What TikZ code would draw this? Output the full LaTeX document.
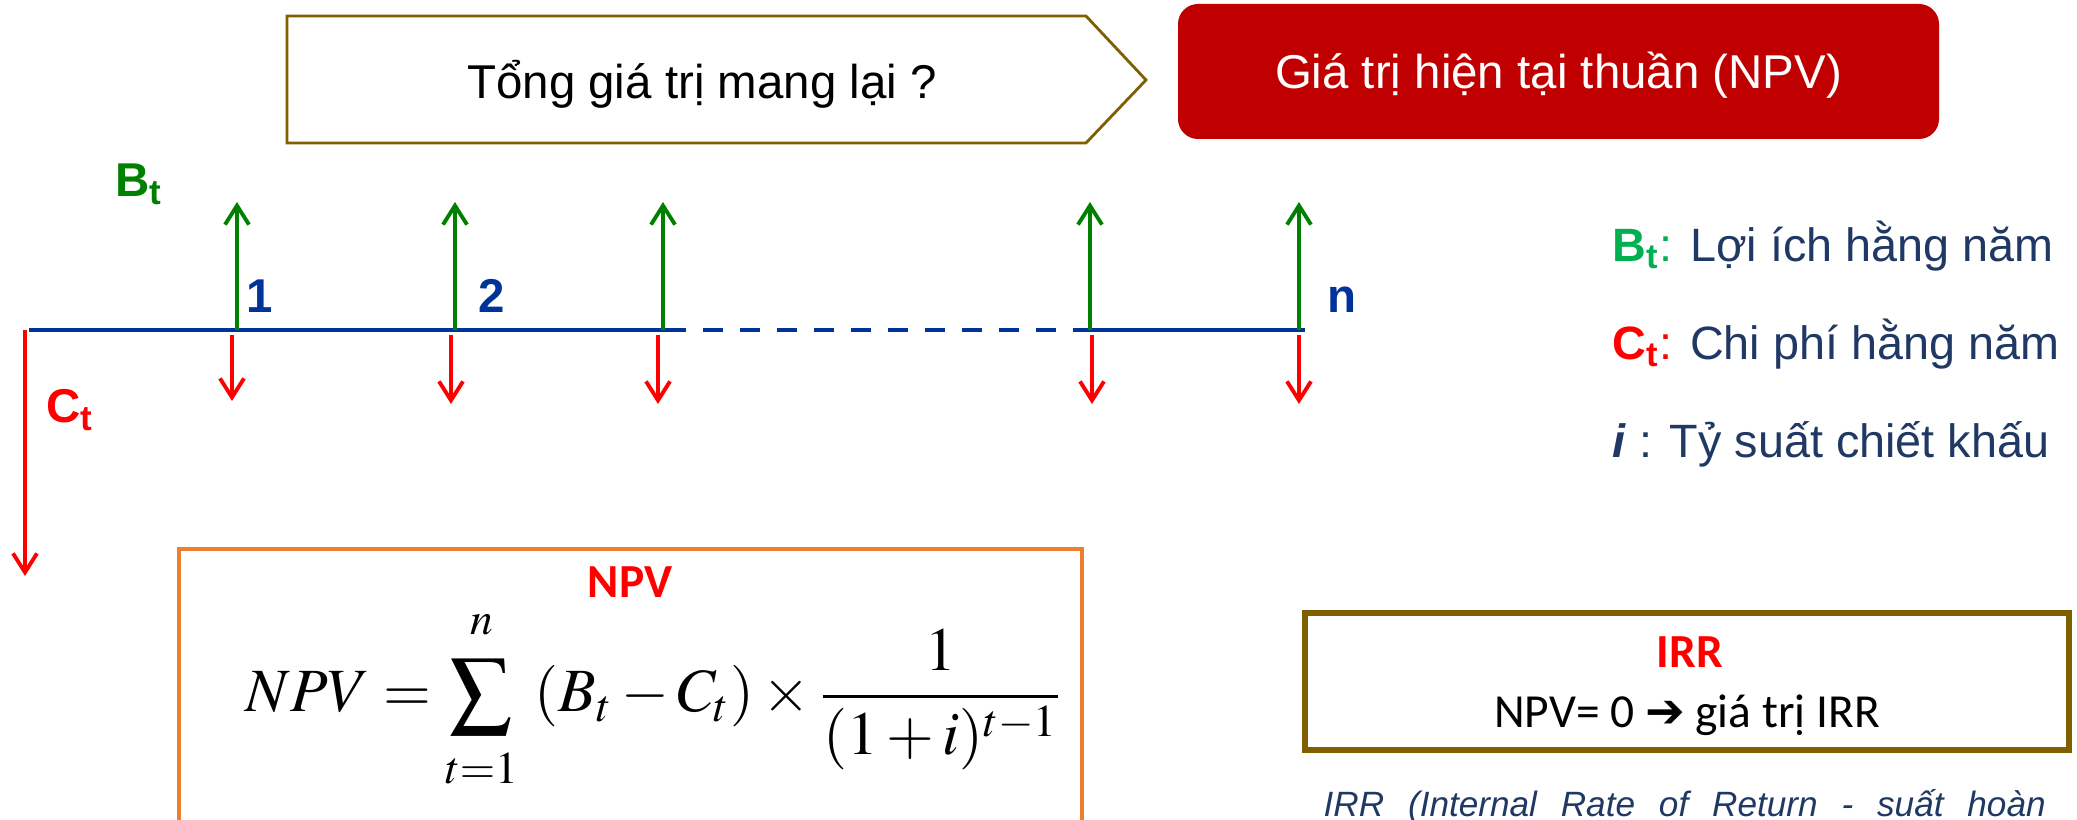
\documentclass[tikz,border=0pt]{standalone}
\usepackage{mathptmx}
\usepackage[no-math]{fontspec}
\setmainfont{Liberation Sans}
\newfontfamily\calibri{Carlito}
\newfontfamily\dejavu{DejaVu Sans}
\usetikzlibrary{arrows.meta}
\definecolor{olivebrown}{HTML}{7F6000}
\definecolor{boxred}{HTML}{C00000}
\definecolor{axisblue}{HTML}{003399}
\definecolor{arrowgreen}{HTML}{008000}
\definecolor{legendgreen}{HTML}{00B050}
\definecolor{navy}{HTML}{203864}
\definecolor{npvorange}{HTML}{ED7D31}

\begin{document}
\begin{tikzpicture}[
    font=\fontsize{13.5}{16}\selectfont,
    every node/.style={inner sep=0pt},
    axis/.style={draw=axisblue, line width=1.2pt},
    benefit/.style={
        draw=arrowgreen,
        line width=1.1pt,
        -{Straight Barb[length=1.9mm,width=2.4mm]}
    },
    cost/.style={
        draw=red,
        line width=1.1pt,
        -{Straight Barb[length=1.9mm,width=2.4mm]}
    },
    tick/.style={text=axisblue, font=\fontsize{13.5}{16}\selectfont\bfseries},
    legend/.style={text=navy, font=\fontsize{13.3}{16}\selectfont},
    titlebox/.style={
        rectangle,
        rounded corners=0.2cm,
        fill=boxred,
        text=white,
        minimum width=7.61cm,
        minimum height=1.35cm,
        text height=0.34cm,
        text depth=0pt
    },
    npvframe/.style={draw=npvorange, line width=1.2pt},
    irrframe/.style={draw=olivebrown, line width=1.6pt},
]
\clip (0,0) rectangle (20.77,8.20);

% Top row
\draw[olivebrown, line width=0.8pt] (2.87,8.04) -- (10.86,8.04) -- (11.46,7.40)
    -- (10.86,6.77) -- (2.87,6.77) -- cycle;
\node[anchor=base] (total) at (7.02,7.21) {Tổng giá trị mang lại ?};
\node[titlebox] (npvtitle) at (15.585,7.485) {Giá trị hiện tại thuần (NPV)};

% Time line
\coordinate (t0) at (0.29,4.90);
\coordinate (ta) at (6.66,4.90);
\coordinate (tb) at (10.83,4.90);
\coordinate (tn) at (13.05,4.90);
\draw[axis] (t0) -- (ta);
\draw[axis, dash pattern=on 0.2cm off 0.17cm] (ta) -- (tb);
\draw[axis] (tb) -- (tn);

% Benefits
\coordinate (p1) at (2.37,4.90);
\coordinate (p2) at (4.55,4.90);
\coordinate (p3) at (6.63,4.90);
\coordinate (p4) at (10.90,4.90);
\coordinate (p5) at (12.99,4.90);
\draw[benefit] (p1) -- ++(0,1.28);
\draw[benefit] (p2) -- ++(0,1.28);
\draw[benefit] (p3) -- ++(0,1.28);
\draw[benefit] (p4) -- ++(0,1.28);
\draw[benefit] (p5) -- ++(0,1.28);

% Costs
\draw[cost] ([xshift=-0.05cm,yshift=-0.05cm]p1) -- ++(0,-0.66);
\draw[cost] ([xshift=-0.04cm,yshift=-0.05cm]p2) -- ++(0,-0.69);
\draw[cost] ([xshift=-0.05cm,yshift=-0.05cm]p3) -- ++(0,-0.69);
\draw[cost] ([xshift=0.02cm,yshift=-0.05cm]p4) -- ++(0,-0.69);
\draw[cost] ([yshift=-0.05cm]p5) -- ++(0,-0.69);
\draw[cost] ([xshift=-0.04cm]t0) -- ++(0,-2.46);

% Labels
\node[anchor=base west, text=arrowgreen, font=\fontsize{13.5}{16}\selectfont\bfseries] (bt) at (1.15,6.23) {B\textsubscript{t}};
\node[anchor=base west, text=red, font=\fontsize{13.5}{16}\selectfont\bfseries] (ct) at (0.46,3.97) {C\textsubscript{t}};
\node[tick, anchor=base west] (one) at (2.46,5.07) {1};
\node[tick, anchor=base west] (two) at (4.78,5.07) {2};
\node[tick, anchor=base west] (last) at (13.27,5.07) {n};

% Legend
\node[legend, anchor=base west] (lgb) at (16.12,5.58) {\textcolor{legendgreen}{\textbf{B}\textsubscript{\bfseries t}:} Lợi ích hằng năm};
\node[legend, anchor=base west] (lgc) at (16.12,4.60) {\textcolor{red}{\textbf{C}\textsubscript{\bfseries t}:} Chi phí hằng năm};
\node[legend, anchor=base west] (lgi) at (16.12,3.62) {\textbf{\itshape i} : Tỷ suất chiết khấu};

% NPV box
\draw[npvframe] (1.79,2.71) rectangle (10.82,-0.5);
\node[anchor=base, text=red, font=\fontsize{13.5}{16}\selectfont\calibri\bfseries] (npvhead) at (6.30,2.22) {NPV};
\node[anchor=base, font=\fontsize{17.5}{21}\selectfont] (formula) at (6.54,1.08)
    {$\displaystyle NPV=\sum\limits_{\raisebox{-0.12cm}{$\scriptstyle t=1$}}^{\raisebox{0.12cm}{$\scriptstyle n$}}\ (B_{t}-C_{t})\times\frac{1}{(1+i)^{t-1}}$};

% IRR box
\draw[irrframe] (13.05,2.07) rectangle (20.69,0.70);
\node[anchor=base, text=red, font=\fontsize{13.5}{16}\selectfont\calibri\bfseries] (irrhead) at (16.90,1.52) {IRR};
\node[anchor=base, font=\fontsize{13.5}{16}\selectfont\calibri] (irrrule) at (16.87,0.92) {NPV= 0 {\dejavu ➔} giá trị IRR};
\node[anchor=base west, text=navy, font=\fontsize{10}{12}\selectfont\itshape] (irrnote) at (13.23,0.03)
    {\makebox[7.22cm][s]{IRR (Internal Rate of Return - suất hoàn}};

\end{tikzpicture}
\end{document}
